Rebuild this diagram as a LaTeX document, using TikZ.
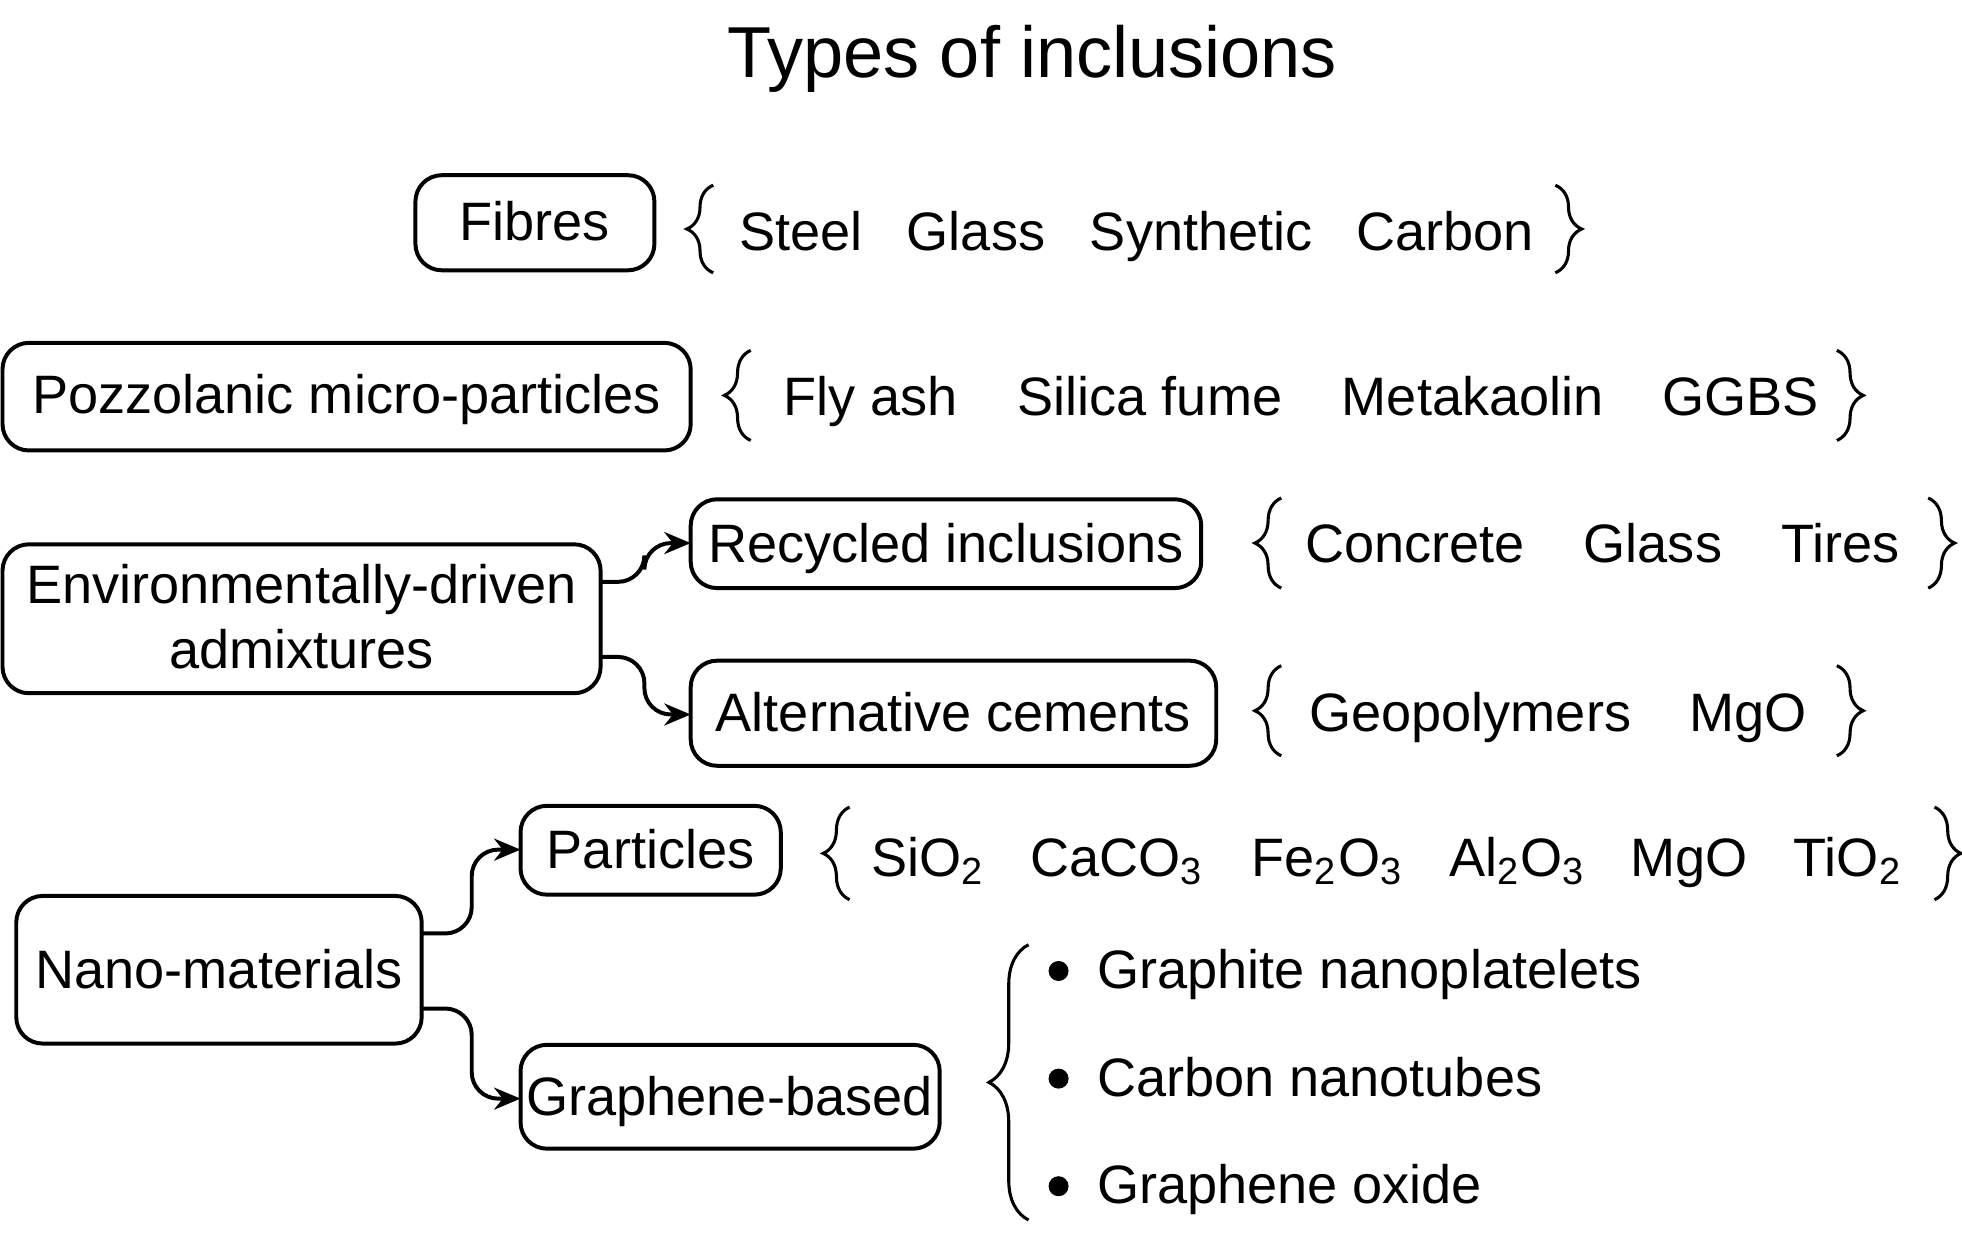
\documentclass[tikz,border=0pt]{standalone}
\usepackage{fontspec}
\setmainfont{Liberation Sans}
\usetikzlibrary{decorations.pathreplacing,arrows.meta}
\begin{document}
\begin{tikzpicture}[x=0.01cm,y=-0.01cm,
  itm/.style={font=\fontsize{12.3}{14.8}\selectfont,anchor=mid,inner sep=0pt},
  bx/.style={line width=0.9pt,rounded corners=6pt},
  lbr/.style={decorate,decoration={brace,amplitude=6pt},line width=0.7pt},
  con/.style={-{Stealth[length=6pt,width=5pt]},line width=0.9pt,rounded corners=6pt}]
\useasboundingbox (0,0) rectangle (1568,1002);
\node[font=\fontsize{16.4}{19}\selectfont] (title) at (825,47) {Types of inclusions};
% boxes
\draw[bx] (332,140) rectangle (523,216);
\node[itm] (fib) at (427,183) {Fibres};
\draw[bx] (2,274) rectangle (552,360);
\node[itm] (poz) at (277,321) {Pozzolanic micro-particles};
\draw[bx] (2,435) rectangle (480,554);
\node[itm,anchor=center,align=center] (env) at (241,493) {Environmentally-driven\\admixtures};
\draw[bx] (552,399) rectangle (960,470);
\node[itm] (rec) at (756,440) {Recycled inclusions};
\draw[bx] (552,528) rectangle (972,612);
\node[itm] (alt) at (762,575) {Alternative cements};
\draw[bx] (13,716) rectangle (337,834);
\node[itm] (nano) at (175,781) {Nano-materials};
\draw[bx] (416,644) rectangle (624,715);
\node[itm] (par) at (520,685) {Particles};
\draw[bx] (416,835) rectangle (751,918);
\node[itm] (gra) at (583,882) {Graphene-based};
% connectors
\coordinate (e1) at (480,465); \coordinate (e2) at (480,525);
\coordinate (r1) at (552,434); \coordinate (a1) at (552,571);
\draw[con] (e1) -- (515,465) -- (515,434) -- (r1);
\draw[con] (e2) -- (515,525) -- (515,571) -- (a1);
\coordinate (n1) at (337,746); \coordinate (n2) at (337,806);
\coordinate (p1) at (416,679); \coordinate (g1) at (416,878);
\draw[con] (n1) -- (377,746) -- (377,679) -- (p1);
\draw[con] (n2) -- (377,806) -- (377,878) -- (g1);
% braces
\draw[lbr] (570,218) -- (570,148); \draw[lbr] (1243,148) -- (1243,218);
\node[itm] (f1) at (640,191) {Steel}; \node[itm] (f2) at (780,191) {Glass};
\node[itm] (f3) at (960,191) {Synthetic}; \node[itm] (f4) at (1155,191) {Carbon};
\draw[lbr] (600,352) -- (600,280); \draw[lbr] (1468,280) -- (1468,352);
\node[itm] (p1t) at (696,323) {Fly ash}; \node[itm] (p2t) at (919,323) {Silica fume};
\node[itm] (p3t) at (1177,323) {Metakaolin}; \node[itm] (p4t) at (1391,323) {GGBS};
\draw[lbr] (1024,470) -- (1024,398); \draw[lbr] (1541,398) -- (1541,470);
\node[itm] (r1t) at (1131,440) {Concrete}; \node[itm] (r2t) at (1321,440) {Glass};
\node[itm] (r3t) at (1471,440) {Tires};
\draw[lbr] (1024,604) -- (1024,532); \draw[lbr] (1468,532) -- (1468,604);
\node[itm] (a1t) at (1175,575) {Geopolymers}; \node[itm] (a2t) at (1397,575) {MgO};
\draw[lbr] (679,719) -- (679,645); \draw[lbr] (1546,645) -- (1546,719);
\node[itm] (s1) at (742,691) {SiO\textsubscript{2}};
\node[itm] (s2) at (893,691) {CaCO\textsubscript{3}};
\node[itm] (s3) at (1061,691) {Fe\textsubscript{2}O\textsubscript{3}};
\node[itm] (s4) at (1213,691) {Al\textsubscript{2}O\textsubscript{3}};
\node[itm] (s5) at (1350,691) {MgO};
\node[itm] (s6) at (1477,691) {TiO\textsubscript{2}};
\draw[decorate,decoration={brace,amplitude=9pt},line width=0.7pt] (822,975) -- (822,755);
\foreach \y/\t/\n in {776/Graphite nanoplatelets/b1,862/Carbon nanotubes/b2,948/Graphene oxide/b3}{
  \fill (846,\y) circle (8);
  \node[itm,anchor=base west] (\n) at (876,\y+14) {\t};
}
\end{tikzpicture}
\end{document}
